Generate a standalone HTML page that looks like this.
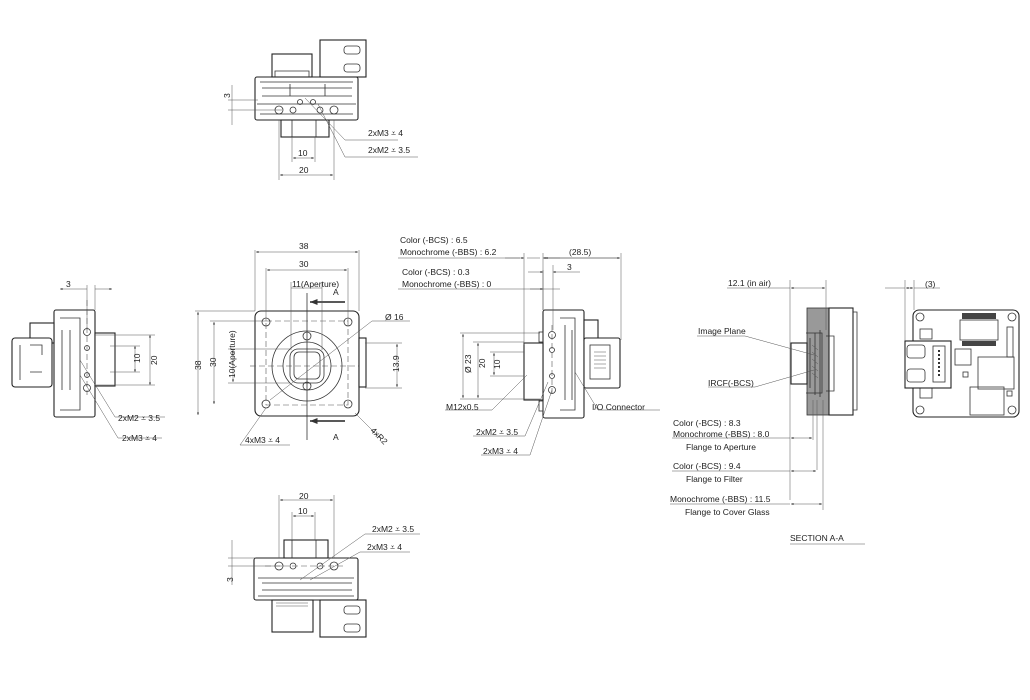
<!DOCTYPE html>
<html><head><meta charset="utf-8"><style>
html,body{margin:0;padding:0;background:#fff}
svg{display:block}
text{font-family:"Liberation Sans","DejaVu Sans",sans-serif;font-size:8.5px;fill:#222}
.l{stroke:#333;stroke-width:.8;fill:none}
.t{stroke:#555;stroke-width:.5;fill:none}
.b{stroke:#222;stroke-width:1.1;fill:#fff}
.d{stroke:#555;stroke-width:.6;fill:none;stroke-dasharray:6 3}
.g{fill:#999;stroke:#333;stroke-width:.8}
</style></head><body>
<svg width="1030" height="700" viewBox="0 0 1030 700" xmlns="http://www.w3.org/2000/svg">
<defs><marker id="a" markerWidth="6" markerHeight="6" refX="5" refY="3" orient="auto-start-reverse"><path d="M0,1 L5,3 L0,5" fill="#333"/></marker></defs>

<!-- TOP VIEW -->
<rect class="b" x="255" y="77" width="103" height="43" rx="2"/>
<rect class="b" x="272" y="54" width="40" height="23"/>
<path class="l" d="M275,77 v-6 h34 v6"/>
<rect class="b" x="320" y="40" width="46" height="37"/>
<rect class="l" x="344" y="46" width="16" height="8" rx="3"/><rect class="l" x="344" y="64" width="16" height="8" rx="3"/>
<path class="l" d="M260,82 h93 M262,88 h90 M262,96 h90 M290,84 v12 M325,84 v12 M257,104 h99 M260,114 h93"/>
<circle class="l" cx="279" cy="110" r="4"/><circle class="l" cx="293" cy="110" r="3"/><circle class="l" cx="320" cy="110" r="3"/><circle class="l" cx="334" cy="110" r="4"/>
<circle class="l" cx="300" cy="102" r="2.5"/><circle class="l" cx="313" cy="102" r="2.5"/>
<rect class="b" x="281" y="120" width="48" height="17"/>
<path class="l" d="M292,120 v17 M316,120 v17"/>
<path class="t" d="M279,120 v60 M334,120 v60 M292,137 v25 M315,137 v25"/>
<path class="t" marker-start="url(#a)" marker-end="url(#a)" d="M280,175 H333"/>
<path class="t" marker-start="url(#a)" marker-end="url(#a)" d="M293,158 H314"/>
<text x="299" y="173">20</text><text x="298" y="156">10</text>
<path class="t" d="M228,110 H282 M228,100 H258 M232,85 v40"/>
<text x="230" y="98" transform="rotate(-90 230 98)">3</text>
<path class="t" d="M305,98 L345,140 H398 M318,104 L345,157 H418"/>
<text x="368" y="136">2xM3 ⩡ 4</text><text x="368" y="153">2xM2 ⩡ 3.5</text>

<!-- LEFT SIDE VIEW -->
<rect class="b" x="54" y="310" width="41" height="107" rx="2"/>
<rect class="b" x="30" y="323" width="24" height="20"/>
<rect class="b" x="12" y="338" width="40" height="49" rx="3"/>
<path class="l" d="M20,345 v35 M30,345 h12 v10 M30,372 h12 M60,318 h20 v92 h-20 M62,330 v60 M70,330 v60"/>
<circle class="l" cx="87" cy="332" r="3.5"/><circle class="l" cx="87" cy="348" r="2.5"/><circle class="l" cx="87" cy="375" r="2.5"/><circle class="l" cx="87" cy="388" r="3.5"/>
<path class="d" d="M87,300 V395"/>
<rect class="b" x="95" y="333" width="20" height="53"/>
<path class="t" d="M95,335 h60 M95,385 h60 M110,346 h30 M110,372 h30"/>
<path class="t" marker-start="url(#a)" marker-end="url(#a)" d="M150,335 V385"/>
<path class="t" marker-start="url(#a)" marker-end="url(#a)" d="M135,346 V372"/>
<text x="157" y="365" transform="rotate(-90 157 365)">20</text>
<text x="140" y="363" transform="rotate(-90 140 363)">10</text>
<path class="t" d="M87,285 V330 M95,285 V310"/>
<path class="t" marker-start="url(#a)" marker-end="url(#a)" d="M60,289 H87 M95,289 H112"/>
<text x="66" y="287">3</text>
<path class="t" d="M80,360 L115,417 H165 M80,375 L118,438 H162"/>
<text x="118" y="421">2xM2 ⩡ 3.5</text><text x="122" y="441">2xM3 ⩡ 4</text>

<!-- FRONT VIEW -->
<rect class="b" x="255" y="311" width="104" height="105" rx="6"/>
<rect class="d" x="266" y="321" width="82" height="84"/>
<path class="d" d="M250,366 H365"/>
<circle class="l" cx="266" cy="322" r="4"/><circle class="l" cx="348" cy="322" r="4"/><circle class="l" cx="266" cy="404" r="4"/><circle class="l" cx="348" cy="404" r="4"/>
<circle class="l" cx="307" cy="366" r="35"/><circle class="l" cx="307" cy="366" r="24"/>
<rect class="l" x="290" y="349" width="34" height="34" rx="8"/><rect class="l" x="294" y="352" width="26" height="27" rx="5"/>
<circle class="l" cx="307" cy="336" r="4"/><circle class="l" cx="307" cy="386" r="4"/>
<rect class="b" x="359" y="338" width="7" height="49"/>
<path class="l" d="M307,293 V440" stroke-width="1.2"/>
<path stroke="#222" stroke-width="1.5" marker-end="url(#a)" d="M345,302 H310"/>
<path stroke="#222" stroke-width="1.5" marker-end="url(#a)" d="M345,421 H310"/>
<text x="333" y="295" font-size="10">A</text><text x="333" y="440" font-size="10">A</text>
<path class="t" d="M255,250 V311 M359,250 V311 M266,268 V321 M348,268 V321 M291,282 V350 M322,282 V350"/>
<path class="t" marker-start="url(#a)" marker-end="url(#a)" d="M256,252 H358"/>
<path class="t" marker-start="url(#a)" marker-end="url(#a)" d="M267,270 H347"/>
<text x="299" y="249">38</text><text x="299" y="267">30</text>
<path class="t" d="M291,288 H322"/><text x="292" y="287">11(Aperture)</text>
<path class="t" d="M195,311 H255 M210,321 H266 M228,349 H290 M228,383 H290 M365,343 H402 M365,388 H402"/>
<path class="t" marker-start="url(#a)" marker-end="url(#a)" d="M198,312 V415"/>
<path class="t" marker-start="url(#a)" marker-end="url(#a)" d="M214,322 V404"/>
<path class="t" marker-start="url(#a)" marker-end="url(#a)" d="M233,350 V382"/>
<path class="t" marker-start="url(#a)" marker-end="url(#a)" d="M397,344 V387"/>
<text x="201" y="370" transform="rotate(-90 201 370)">38</text>
<text x="216" y="367" transform="rotate(-90 216 367)">30</text>
<text x="235" y="378" transform="rotate(-90 235 378)">10(Aperture)</text>
<text x="399" y="372" transform="rotate(-90 399 372)">13.9</text>
<path class="t" d="M270,400 L372,321 H410"/><text x="385" y="320">Ø 16</text>
<path class="t" d="M266,408 L240,445 H290"/><text x="245" y="443">4xM3 ⩡ 4</text>
<path class="t" d="M355,413 L380,438"/><text x="370" y="431" transform="rotate(45 370 431)">4xR2</text>

<!-- RIGHT SIDE VIEW -->
<rect class="b" x="543" y="310" width="41" height="108" rx="2"/>
<path class="l" d="M560,318 h15 v92 h-15 M565,325 v75 M572,330 v70"/>
<rect class="b" x="584" y="320" width="14" height="20"/>
<rect class="b" x="584" y="338" width="36" height="50" rx="2"/>
<rect class="l" x="590" y="345" width="20" height="34"/>
<path class="t" d="M594,352 h12 M594,356 h12 M594,360 h12 M594,364 h12 M594,368 h12"/>
<circle class="l" cx="552" cy="335" r="3.5"/><circle class="l" cx="552" cy="350" r="2.5"/><circle class="l" cx="552" cy="376" r="2.5"/><circle class="l" cx="552" cy="390" r="3.5"/>
<path class="d" d="M552,325 V395"/>
<rect class="b" x="524" y="343" width="19" height="57"/>
<rect class="l" x="539" y="332" width="4" height="10"/><rect class="l" x="539" y="401" width="4" height="10"/>
<path class="t" d="M460,333 H540 M473,342 H524 M490,352 H524 M490,376 H524 M460,399 H540"/>
<path class="t" marker-start="url(#a)" marker-end="url(#a)" d="M463,334 V398"/>
<path class="t" marker-start="url(#a)" marker-end="url(#a)" d="M478,343 V398"/>
<path class="t" marker-start="url(#a)" marker-end="url(#a)" d="M494,353 V375"/>
<text x="471" y="373" transform="rotate(-90 471 373)">Ø 23</text>
<text x="485" y="368" transform="rotate(-90 485 368)">20</text>
<text x="500" y="369" transform="rotate(-90 500 369)">10</text>
<path class="t" d="M524,253 V345 M543,253 V310 M543,270 V310 M553,265 V330 M621,253 V340"/>
<path class="t" d="M398,258 H520 M527,258 H540 M546,258 H618"/>
<path class="t" marker-end="url(#a)" d="M505,258 H524"/><path class="t" marker-end="url(#a)" d="M560,258 H543"/>
<path class="t" marker-start="url(#a)" marker-end="url(#a)" d="M545,258 H620"/>
<path class="t" marker-end="url(#a)" d="M528,272 H543"/><path class="t" marker-end="url(#a)" d="M570,272 H553"/><path class="t" d="M570,272 H580"/>
<path class="t" d="M398,289 H560"/><path class="t" marker-end="url(#a)" d="M530,289 H543"/>
<text x="400" y="243">Color (-BCS) : 6.5</text><text x="400" y="255">Monochrome (-BBS) : 6.2</text>
<text x="402" y="275">Color (-BCS) : 0.3</text><text x="402" y="287">Monochrome (-BBS) : 0</text>
<text x="569" y="255">(28.5)</text><text x="567" y="270">3</text>
<path class="t" d="M527,375 L492,410 H445"/><text x="446" y="410">M12x0.5</text>
<path class="t" d="M575,372 L598,410 H660"/><text x="592" y="410">I/O Connector</text>
<path class="t" d="M548,382 L525,436 H473"/><text x="476" y="435">2xM2 ⩡ 3.5</text>
<path class="t" d="M552,390 L530,455 H481"/><text x="483" y="454">2xM3 ⩡ 4</text>

<!-- SECTION A-A -->
<rect x="807" y="308" width="22" height="107" fill="#999" stroke="#333" stroke-width=".8"/>
<rect class="b" x="829" y="308" width="24" height="107"/>
<path class="l" d="M853,312 h4 v98 h-4"/>
<rect class="b" x="791" y="343" width="16" height="41"/>
<path class="l" d="M806,333 h16 v60 h-16 M810,338 v50 M815,333 v62 M820,330 v67 M826,336 h8 v55 h-8"/>
<path class="t" d="M812,345 l6,5 M812,352 l6,5 M812,359 l6,5 M812,366 l6,5 M812,373 l6,5"/>
<path class="t" d="M790,280 V500 M826,280 V330 M813,400 V440 M817,400 V470 M823,400 V510"/>
<path class="t" d="M727,288 H790"/><path class="t" marker-start="url(#a)" marker-end="url(#a)" d="M791,288 H825"/>
<text x="728" y="286">12.1 (in air)</text>
<path class="t" d="M697,336 H745 L814,355"/><text x="698" y="334">Image Plane</text>
<path class="t" d="M708,387 H755 L814,370"/><text x="708" y="386">IRCF(-BCS)</text>
<path class="t" d="M672,438 H790"/><path class="t" marker-start="url(#a)" marker-end="url(#a)" d="M791,438 H812"/>
<text x="673" y="426">Color (-BCS) : 8.3</text><text x="673" y="437">Monochrome (-BBS) : 8.0</text><text x="686" y="450">Flange to Aperture</text>
<path class="t" d="M672,471 H790"/><path class="t" marker-start="url(#a)" marker-end="url(#a)" d="M791,471 H816"/>
<text x="673" y="469">Color (-BCS) : 9.4</text><text x="686" y="482">Flange to Filter</text>
<path class="t" d="M670,504 H790"/><path class="t" marker-start="url(#a)" marker-end="url(#a)" d="M791,504 H822"/>
<text x="670" y="502">Monochrome (-BBS) : 11.5</text><text x="685" y="515">Flange to Cover Glass</text>
<text x="790" y="541" font-size="9.5">SECTION A-A</text><path class="t" d="M790,544 H865"/>

<!-- BACK VIEW -->
<rect class="b" x="913" y="310" width="106" height="107" rx="6"/>
<circle class="l" cx="920" cy="317" r="4"/><circle class="l" cx="1012" cy="317" r="4"/><circle class="l" cx="920" cy="410" r="4"/><circle class="l" cx="1012" cy="410" r="4"/>
<rect x="962" y="313" width="34" height="6" fill="#444"/><rect x="962" y="341" width="34" height="5" fill="#444"/>
<rect class="l" x="960" y="320" width="38" height="20"/>
<rect class="l" x="1007" y="327" width="6" height="30"/>
<rect class="l" x="978" y="357" width="36" height="32"/><rect class="l" x="970" y="387" width="34" height="28"/>
<rect class="l" x="955" y="349" width="16" height="16"/><rect class="l" x="963" y="372" width="5" height="5"/><rect class="l" x="1007" y="391" width="5" height="5"/>
<rect class="l" x="920" y="329" width="12" height="10"/><rect class="l" x="920" y="388" width="12" height="10"/>
<rect class="b" x="905" y="341" width="46" height="47"/>
<rect class="l" x="907" y="345" width="18" height="13" rx="3"/><rect class="l" x="907" y="369" width="18" height="13" rx="3"/>
<rect class="l" x="933" y="346" width="12" height="36"/>
<path d="M939,350 v28" stroke="#333" stroke-width="2" stroke-dasharray="2 2"/>
<path class="t" d="M905,280 V341 M914,280 V310"/>
<path class="t" d="M885,288 H905"/><path class="t" marker-start="url(#a)" marker-end="url(#a)" d="M906,288 H913"/><path class="t" d="M914,288 H940"/>
<text x="925" y="287">(3)</text>

<!-- BOTTOM VIEW -->
<rect class="b" x="254" y="558" width="104" height="42" rx="2"/>
<rect class="b" x="284" y="540" width="44" height="18"/>
<path class="l" d="M292,540 v18 M316,540 v18"/>
<circle class="l" cx="279" cy="566" r="4"/><circle class="l" cx="293" cy="566" r="3"/><circle class="l" cx="320" cy="566" r="3"/><circle class="l" cx="334" cy="566" r="4"/>
<path class="d" d="M265,566 H345"/>
<path class="l" d="M258,578 h96 M262,583 h90 M262,590 h90 M258,596 h96"/>
<rect class="b" x="272" y="600" width="41" height="32"/>
<path class="t" d="M276,603 h32 M276,606 h32"/>
<rect class="b" x="320" y="600" width="46" height="37"/>
<rect class="l" x="344" y="606" width="16" height="8" rx="3"/><rect class="l" x="344" y="624" width="16" height="8" rx="3"/>
<path class="t" d="M279,495 V558 M334,495 V558 M292,512 V540 M315,512 V540"/>
<path class="t" marker-start="url(#a)" marker-end="url(#a)" d="M280,500 H333"/>
<path class="t" marker-start="url(#a)" marker-end="url(#a)" d="M293,516 H314"/>
<text x="299" y="499">20</text><text x="298" y="514">10</text>
<path class="t" d="M228,558 H256 M228,566 H282 M232,540 v45"/>
<text x="233" y="582" transform="rotate(-90 233 582)">3</text>
<path class="t" d="M300,580 L365,534 H420 M310,580 L360,552 H410"/>
<text x="372" y="532">2xM2 ⩡ 3.5</text><text x="367" y="550">2xM3 ⩡ 4</text>
</svg>
</body></html>
